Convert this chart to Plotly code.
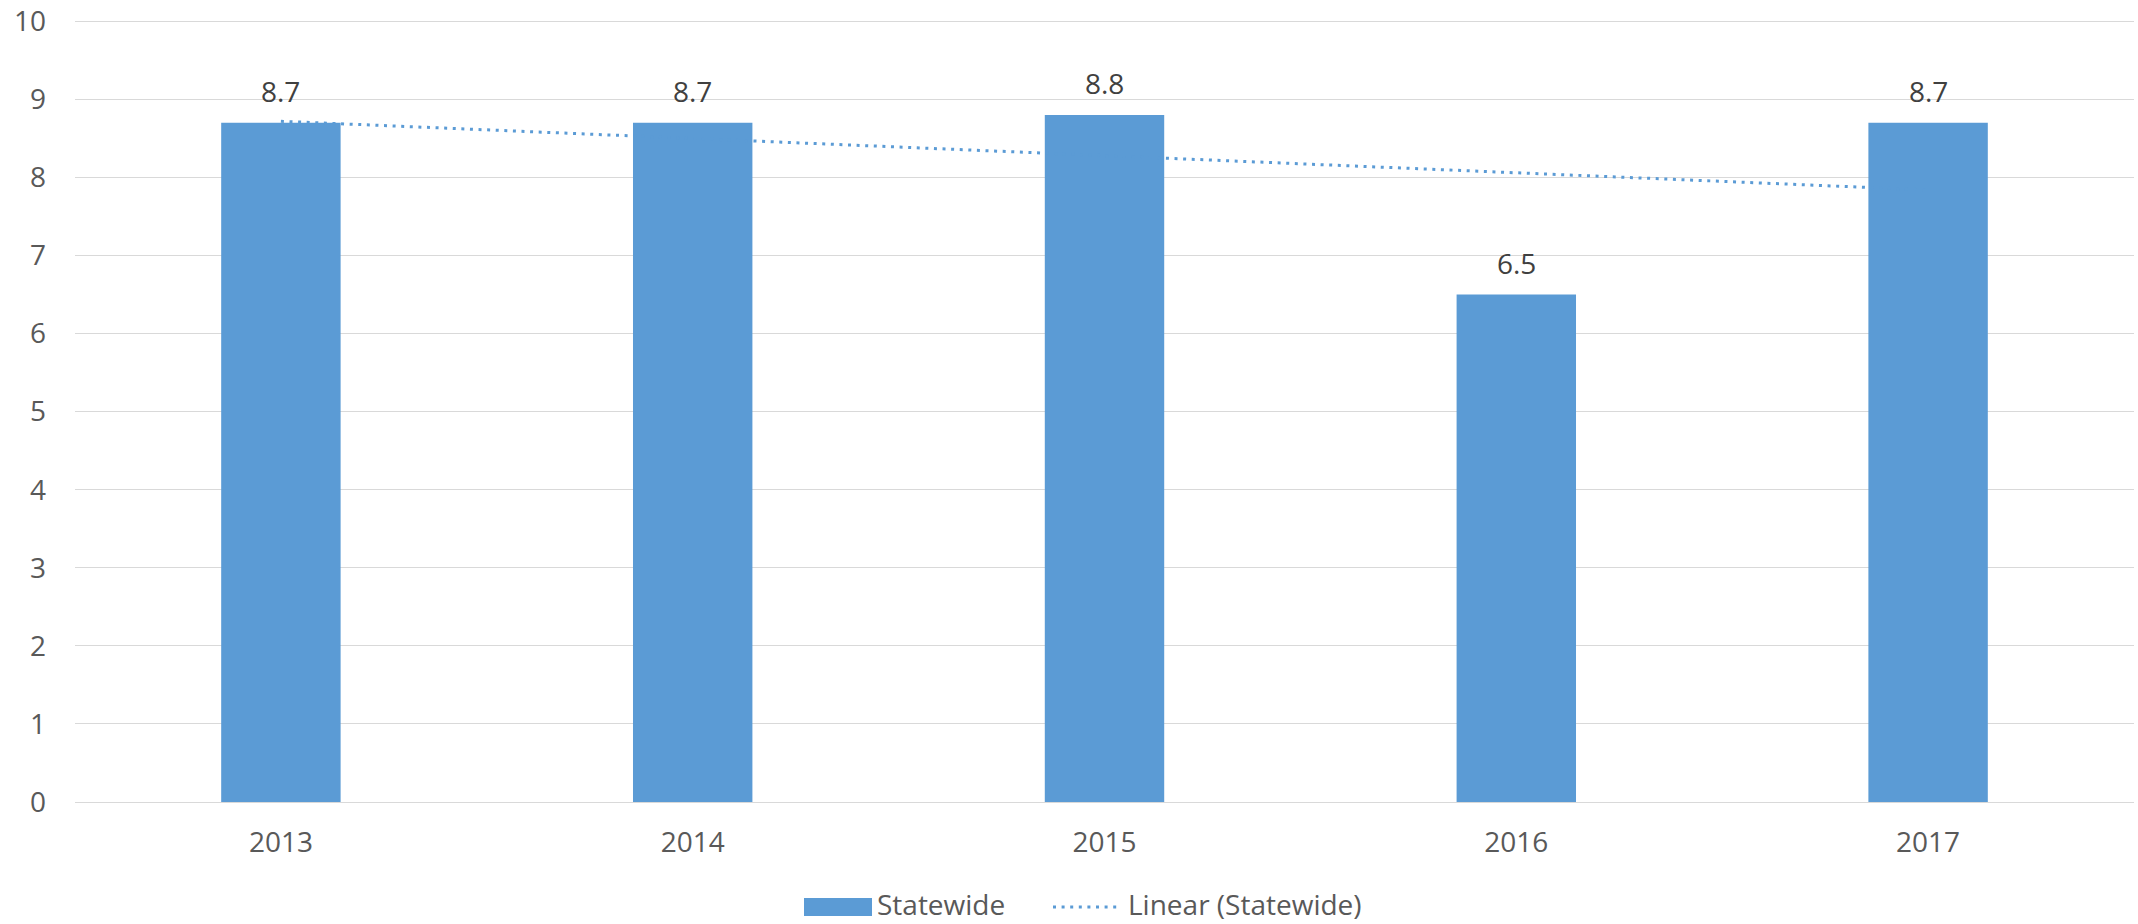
import numpy as np
import plotly.graph_objects as go

years = ["2013", "2014", "2015", "2016", "2017"]
values = [8.7, 8.7, 8.8, 6.5, 8.7]
value_labels = ["8.7", "8.7", "8.8", "6.5", "8.7"]
y_ticks = [0, 1, 2, 3, 4, 5, 6, 7, 8, 9, 10]
series_name = "Statewide"
trend_name = "Linear (Statewide)"

BLUE = "#5B9BD5"
FONT = "Open Sans"
TXT = "#595959"
DOTS = "3px,5.6px"

# page body margin is removed below, so the figure fills the window exactly
W, H = 2138, 924
L, R, T, B = 75, 4, 19, 924 - 802
PW, PH = W - L - R, H - T - B

def px_x(p):  # window pixel -> paper x
    return (p - L) / PW

def px_y(p):  # window pixel -> paper y
    return (H - B - p) / PH

# Linear trendline (least squares fit, as in the spreadsheet trendline)
xi = np.arange(len(values))
slope, intercept = np.polyfit(xi, values, 1)
trend = list(intercept + slope * xi)

fig = go.Figure()
fig.add_trace(go.Bar(
    x=years, y=values, name=series_name,
    marker=dict(color=BLUE, line=dict(width=0)),
))
fig.add_trace(go.Scatter(
    x=years, y=trend, name=trend_name, mode="lines",
    line=dict(color=BLUE, width=3, dash=DOTS),
))

# data labels (category index positions on the category axis)
for i, (v, t) in enumerate(zip(values, value_labels)):
    fig.add_annotation(x=i, y=v, text=t, showarrow=False, yanchor="bottom",
                       yshift=11, font=dict(family=FONT, size=28, color="#404040"))

# legend (drawn manually to match the wide swatch)
fig.add_shape(type="rect", xref="paper", yref="paper",
              x0=px_x(804), x1=px_x(872), y0=px_y(916), y1=px_y(898),
              fillcolor=BLUE, line=dict(width=0))
fig.add_annotation(xref="paper", yref="paper", x=px_x(876), y=px_y(904),
                   xanchor="left", yanchor="middle", text=series_name, showarrow=False,
                   borderpad=0, font=dict(family=FONT, size=28, color=TXT))
fig.add_shape(type="line", xref="paper", yref="paper",
              x0=px_x(1053), x1=px_x(1117), y0=px_y(907), y1=px_y(907),
              line=dict(color=BLUE, width=3, dash=DOTS))
fig.add_annotation(xref="paper", yref="paper", x=px_x(1127), y=px_y(904),
                   xanchor="left", yanchor="middle", text=trend_name, showarrow=False,
                   borderpad=0, font=dict(family=FONT, size=28, color=TXT))

fig.update_layout(
    width=W, height=H,
    margin=dict(l=L, r=R, t=T, b=B),
    paper_bgcolor="white", plot_bgcolor="white",
    bargap=0.71,
    font=dict(family=FONT, size=28, color=TXT),
    showlegend=False,
    xaxis=dict(type="category", range=[-0.5, len(years) - 0.5], showgrid=False,
               showline=True, linecolor="#D9D9D9", automargin=False,
               linewidth=1.3, ticks="", ticklabelstandoff=15,
               tickfont=dict(size=28, color=TXT)),
    yaxis=dict(range=[0, 10.03], tickvals=y_ticks, showgrid=True, gridcolor="#D9D9D9",
               gridwidth=1.3, zeroline=False, showline=False, ticks="", automargin=False,
               ticklabeloverflow="allow", ticklabelstandoff=28,
               tickfont=dict(size=28, color=TXT)),
)

fig.write_html("out.html",
               config={"displayModeBar": False},
               post_script="document.body.style.margin='0px';"
                           "document.body.style.overflow='hidden';")
